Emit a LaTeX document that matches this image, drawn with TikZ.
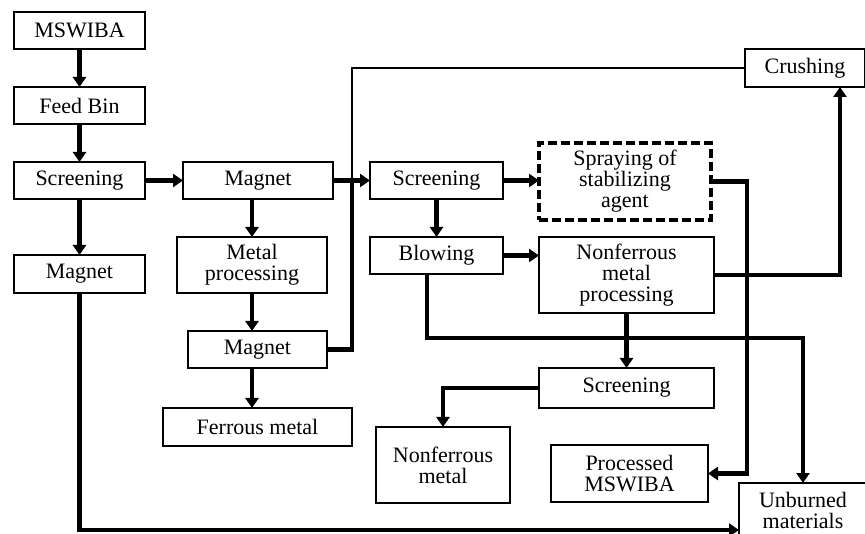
\documentclass[tikz,border=0pt]{standalone}
\usepackage{fontspec}
\setmainfont{Liberation Serif}
\usetikzlibrary{arrows.meta}
\begin{document}
\begin{tikzpicture}[x=1pt, y=-1pt,
    box/.style={draw, line width=1.5pt, align=center, inner sep=0pt, outer sep=0pt, font=\fontsize{22}{21}\selectfont},
    dbox/.style={box, line width=3.8pt, dash pattern=on 9pt off 4pt},
    flow/.style={line width=4.2pt, -{Triangle[width=13pt,length=10pt]}},
    pipe/.style={line width=4.2pt},
    feedback/.style={line width=1.5pt}]
    \useasboundingbox (0,0) rectangle (865,534);
    \node[box, minimum width=131pt, minimum height=37pt] (mswiba) at (79.5,30.5) {MSWIBA};
    \node[box, minimum width=131pt, minimum height=37pt] (feedbin) at (79.5,105.5) {Feed Bin};
    \node[box, minimum width=131pt, minimum height=37pt] (screenA) at (79.5,180.5) {Screening};
    \node[box, minimum width=131pt, minimum height=38pt] (magnetA) at (79.5,274) {Magnet};
    \node[box, minimum width=150pt, minimum height=37pt] (magnetB) at (258,180.5) {Magnet};
    \node[box, minimum width=150pt, minimum height=56pt] (metalproc) at (252,265) {Metal\\processing};
    \node[box, minimum width=139pt, minimum height=37pt] (magnetC) at (257.5,349.5) {Magnet};
    \node[box, minimum width=189pt, minimum height=38pt] (ferrous) at (257.5,427) {Ferrous metal};
    \node[box, minimum width=133pt, minimum height=37pt] (screenB) at (436.5,180.5) {Screening};
    \node[box, minimum width=133pt, minimum height=37pt] (blowing) at (436.5,255.5) {Blowing};
    \node[dbox, minimum width=172pt, minimum height=77pt] (spraying) at (625,181.5) {Spraying of\\stabilizing\\agent};
    \node[box, minimum width=175pt, minimum height=76pt] (nfproc) at (626.5,275) {Nonferrous\\metal\\processing};
    \node[box, minimum width=175pt, minimum height=40pt] (screenC) at (626.5,388) {Screening};
    \node[box, minimum width=134pt, minimum height=76pt] (nfmetal) at (443,465) {Nonferrous\\metal};
    \node[box, minimum width=157pt, minimum height=57pt] (processed) at (629.5,473.5) {Processed\\MSWIBA};
    \node[box, minimum width=120pt, minimum height=38pt] (crushing) at (805,68) {Crushing};
    \node[box, minimum width=128pt, minimum height=54pt] (unburned) at (803,510) {Unburned\\materials};
    \coordinate (join) at (352,181);
    \draw[flow] (mswiba) -- (feedbin);
    \draw[flow] (feedbin) -- (screenA);
    \draw[flow] (screenA) -- (magnetA);
    \draw[flow] (screenA.east) -- (magnetB.west);
    \draw[flow] (magnetB.south -| metalproc.north) -- (metalproc.north);
    \draw[flow] (metalproc.south) -- (metalproc.south |- magnetC.north);
    \draw[flow] (metalproc.south |- magnetC.south) -- (metalproc.south |- ferrous.north);
    \draw[feedback] (crushing.west) -| (join);
    \draw[pipe] (magnetC.east) -| (join);
    \draw[flow] (magnetB.east) -- (screenB.west);
    \draw[flow] (screenB.east) -- (screenB.east -| spraying.west);
    \draw[flow] (screenB) -- (blowing);
    \draw[flow] (blowing.east) -- (blowing.east -| nfproc.west);
    \draw[flow] (nfproc.south) -- (screenC.north);
    \draw[flow] (spraying.east) -- ++(36,0) |- (processed.east);
    \draw[flow] (nfproc.east) -| ([xshift=35pt]crushing.south);
    \draw[flow] ([xshift=-9.5pt]blowing.south) -- ++(0,64) -| (unburned.north);
    \draw[flow] (screenC.west) -| (nfmetal.north);
    \draw[flow] (magnetA.south) |- ([yshift=-20pt]unburned.west);
\end{tikzpicture}
\end{document}
